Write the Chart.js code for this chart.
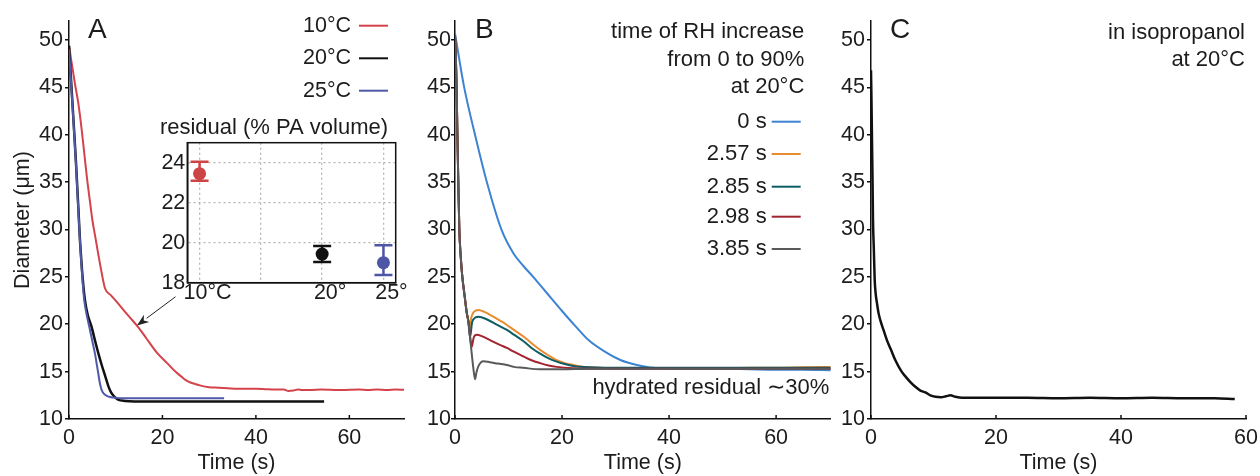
<!DOCTYPE html>
<html><head><meta charset="utf-8">
<script src="https://cdn.jsdelivr.net/npm/chart.js@4.4.1/dist/chart.umd.min.js"></script>
<style>
html,body{margin:0;padding:0;background:#fff;}
#wrap{position:relative;width:1260px;height:476px;overflow:hidden;background:#fff;}
canvas{position:absolute;}
</style></head><body>
<div id="wrap">
<canvas id="cA" width="420" height="476" style="left:0;top:0"></canvas>
<canvas id="cB" width="420" height="476" style="left:420px;top:0"></canvas>
<canvas id="cC" width="420" height="476" style="left:840px;top:0"></canvas>
<canvas id="cI" width="270" height="210" style="left:140px;top:100px"></canvas>
</div>
<script>
// ---------- tick labels ----------
const xTicks = [0, 20, 40, 60];
const yTicks = [10, 15, 20, 25, 30, 35, 40, 45, 50];
const insetTicks = [10, 15, 20, 25];
const insetTickLabels = ['10°C', '', '20°', '25°'];
const insetYTicks = [18, 20, 22, 24];

// ---------- Panel A: temperature ----------
const aRedT = [0, 0.5, 1.3, 2.0, 2.7, 3.3, 3.9, 4.5, 5.0, 5.6, 6.3, 7.0, 7.7, 9, 10.5, 12, 13.5, 14.8, 16.5, 18.8, 21, 23, 24, 25, 26, 27, 28, 30, 32, 34, 36, 38, 40, 42, 44, 46, 47, 48, 49, 50, 52, 54, 56, 58, 60, 62, 64, 66, 68, 70, 71.7];
const aRedD = [49.4, 47.8, 45.3, 43.3, 40.6, 37.9, 35.2, 32.9, 31.0, 29.3, 27.3, 25.4, 23.8, 23.05, 22.2, 21.3, 20.45, 19.7, 18.55, 17.0, 15.9, 14.9, 14.5, 14.1, 13.85, 13.7, 13.55, 13.35, 13.3, 13.25, 13.2, 13.2, 13.2, 13.15, 13.1, 13.1, 12.95, 13.0, 13.1, 13.05, 13.06, 13.1, 13.08, 13.05, 13.08, 13.1, 13.06, 13.1, 13.05, 13.1, 13.08];
const aBlackT = [0, 0.5, 1.0, 1.5, 2.0, 2.3, 2.6, 2.9, 3.4, 4.0, 4.85, 5.5, 6.3, 7.0, 7.7, 8.4, 9.0, 9.8, 10.5, 12, 14, 20, 30, 40, 54.6];
const aBlackD = [49.4, 45.3, 41.2, 37.0, 32.3, 29.3, 27.0, 25.0, 22.6, 21.0, 19.7, 18.4, 16.9, 15.7, 14.6, 13.5, 12.8, 12.3, 12.05, 11.9, 11.85, 11.85, 11.85, 11.85, 11.85];
const aBlueT = [0, 0.5, 1.0, 1.5, 2.0, 2.3, 2.6, 2.9, 3.2, 3.7, 4.35, 5.0, 5.56, 6.0, 6.27, 6.6, 7.0, 7.5, 8.06, 9, 10, 11, 13, 20, 27, 33.2];
const aBlueD = [49.0, 45.0, 41.0, 36.8, 32.0, 29.2, 26.7, 24.6, 22.8, 21.2, 19.7, 18.2, 16.9, 15.6, 14.8, 13.8, 13.05, 12.65, 12.45, 12.3, 12.25, 12.2, 12.2, 12.18, 12.18, 12.18];

// inset: residual (% PA volume)
const insetX = [10, 20, 25];
const insetMean = [23.45, 19.43, 19.0];
const insetLow = [23.1, 19.03, 18.38];
const insetHigh = [24.05, 19.83, 19.87];

// ---------- Panel B: RH increase ----------
const b0T = [0, 1.68, 3.74, 6.0, 8.7, 10.9, 12.7, 14.6, 17, 20, 22.5, 25, 28, 31, 34, 37, 40, 45, 50, 55, 60, 65, 70.2];
const b0D = [50.7, 45.1, 40.0, 34.9, 29.95, 27.5, 26.2, 25.0, 23.4, 21.4, 19.8, 18.3, 17.1, 16.2, 15.7, 15.4, 15.35, 15.3, 15.3, 15.25, 15.2, 15.2, 15.15];
const bShareT = [0, 0.15, 0.3, 0.45, 0.62, 0.81, 1.05, 1.37, 1.8, 2.2, 2.5];
const bShareD = [50.5, 48.5, 45.0, 40.0, 34.9, 30.0, 27.3, 25.0, 23.0, 21.2, 20.3];
const b257T = [2.75, 3.0, 3.4, 3.9, 4.4, 5.5, 7.0, 8.5, 9.5, 11, 12.8, 14.3, 15.9, 17.5, 19, 20.5, 22.1, 23.5, 25.2, 27, 30, 35, 40, 45, 50, 55, 60, 65, 70.2];
const b257D = [19.5, 20.6, 21.2, 21.45, 21.5, 21.3, 20.85, 20.35, 20.0, 19.4, 18.7, 18.0, 17.3, 16.7, 16.2, 15.9, 15.7, 15.55, 15.45, 15.4, 15.35, 15.35, 15.35, 15.35, 15.35, 15.4, 15.4, 15.45, 15.5];
const b285T = [2.8, 3.2, 3.8, 4.4, 6.0, 8.0, 9.7, 11, 12.8, 14.3, 15.9, 17.5, 19, 20.5, 22.1, 25, 28, 35, 45, 55, 65, 70.2];
const b285D = [18.6, 20.2, 20.7, 20.8, 20.5, 19.9, 19.4, 18.9, 18.2, 17.5, 16.9, 16.4, 16.05, 15.8, 15.6, 15.45, 15.4, 15.4, 15.4, 15.4, 15.4, 15.4];
const b298T = [2.9, 3.1, 3.5, 4.05, 5.0, 7.0, 8.5, 9.7, 11, 12.8, 14.3, 15.9, 17.5, 19, 22, 26, 35, 45, 55, 65, 70.2];
const b298D = [18.3, 17.6, 18.6, 18.9, 18.75, 18.2, 17.8, 17.5, 17.1, 16.6, 16.2, 15.9, 15.65, 15.5, 15.35, 15.3, 15.3, 15.3, 15.3, 15.3, 15.3];
const b385T = [3.0, 3.4, 3.74, 4.0, 4.4, 5.3, 6.5, 8.0, 9.7, 11, 12.8, 15.9, 20, 25, 35, 45, 55, 65, 70.2];
const b385D = [17.6, 15.5, 14.2, 14.9, 15.6, 16.1, 16.0, 15.85, 15.7, 15.5, 15.4, 15.25, 15.25, 15.3, 15.3, 15.3, 15.3, 15.3, 15.3];

// ---------- Panel C: isopropanol ----------
const cT = [0, 0.08, 0.16, 0.25, 0.32, 0.45, 0.59, 0.75, 0.96, 1.2, 1.5, 2.0, 2.56, 3.2, 3.9, 4.9, 5.5, 6.3, 7.1, 7.9, 8.7, 9.5, 10.3, 11.2, 12.0, 12.7, 13.5, 14.6, 16, 18, 20, 25, 30, 35, 40, 45, 50, 55, 58.2];
const cD = [46.8, 43.5, 39.4, 35.0, 31.0, 28.0, 24.7, 23.2, 22.2, 21.2, 20.4, 19.4, 18.3, 17.3, 16.2, 15.0, 14.5, 13.9, 13.4, 13.0, 12.8, 12.5, 12.35, 12.3, 12.4, 12.5, 12.35, 12.25, 12.25, 12.25, 12.25, 12.25, 12.2, 12.25, 12.2, 12.25, 12.2, 12.2, 12.1];

// ---------- helpers ----------
const FONT = "'Liberation Sans', Arial, Helvetica, sans-serif";
const TXT = '#1c1c1c';
const AXC = '#111';
const FS = 21.5;
function pts(t, d) { return t.map((x, i) => ({ x: x, y: d[i] })); }

const annot = {
  id: 'annot',
  afterDraw(chart, args, o) {
    const ctx = chart.ctx;
    const ca = chart.chartArea;
    ctx.save();
    if (o.xTick) {
      const xs = chart.scales.x;
      ctx.strokeStyle = AXC; ctx.lineWidth = 1.5;
      xs.ticks.forEach(t => {
        const px = xs.getPixelForValue(t.value);
        ctx.beginPath(); ctx.moveTo(px, ca.bottom); ctx.lineTo(px, ca.bottom - o.xTick); ctx.stroke();
      });
    }
    ctx.fillStyle = TXT;
    ctx.textBaseline = 'middle';
    if (o.letter) {
      ctx.font = '28px ' + FONT; ctx.textAlign = 'left';
      ctx.fillText(o.letter.text, o.letter.x, o.letter.y);
    }
    (o.texts || []).forEach(t => {
      ctx.font = '22px ' + FONT; ctx.textAlign = 'right'; ctx.fillStyle = TXT;
      ctx.fillText(t.text, t.x, t.y);
    });
    if (o.legend) {
      const L = o.legend;
      chart.data.datasets.forEach((ds, i) => {
        const y = L.ys[i];
        ctx.font = L.fs + 'px ' + FONT; ctx.textAlign = 'right'; ctx.fillStyle = TXT;
        ctx.fillText(ds.label, L.textX, y);
        ctx.strokeStyle = ds.borderColor; ctx.lineWidth = 2;
        ctx.beginPath(); ctx.moveTo(L.x1, y); ctx.lineTo(L.x2, y); ctx.stroke();
      });
    }
    if (o.arrow) {
      const xs = chart.scales.x, ys = chart.scales.y;
      const x0 = xs.getPixelForValue(o.arrow.from[0]), y0 = ys.getPixelForValue(o.arrow.from[1]);
      const x1 = xs.getPixelForValue(o.arrow.to[0]), y1 = ys.getPixelForValue(o.arrow.to[1]);
      const ang = Math.atan2(y1 - y0, x1 - x0);
      const hl = 12, hw = 4.5;
      const bx = x1 - hl * Math.cos(ang), by = y1 - hl * Math.sin(ang);
      ctx.strokeStyle = '#222'; ctx.lineWidth = 1;
      ctx.beginPath(); ctx.moveTo(x0, y0); ctx.lineTo(bx, by); ctx.stroke();
      ctx.fillStyle = '#222';
      ctx.beginPath();
      ctx.moveTo(x1, y1);
      ctx.lineTo(bx + hw * Math.sin(ang), by - hw * Math.cos(ang));
      ctx.lineTo(x1 - 0.7 * hl * Math.cos(ang), y1 - 0.7 * hl * Math.sin(ang));
      ctx.lineTo(bx - hw * Math.sin(ang), by + hw * Math.cos(ang));
      ctx.closePath(); ctx.fill();
    }
    ctx.restore();
  }
};

function mainOptions(o) {
  return {
    responsive: false, animation: false, devicePixelRatio: 1,
    layout: { padding: { left: 0, right: o.padRight, top: 21, bottom: 0 } },
    plugins: { legend: { display: false }, tooltip: { enabled: false }, annot: o.annot },
    elements: { point: { radius: 0 }, line: { cubicInterpolationMode: 'monotone', borderWidth: 2 } },
    scales: {
      x: {
        type: 'linear', min: 0, max: o.xMax,
        afterBuildTicks: s => { s.ticks = xTicks.filter(v => v <= o.xMax).map(v => ({ value: v })); },
        afterFit: s => { s.height = 57; s.paddingLeft = 0; s.paddingRight = 0; },
        grid: { display: false, drawTicks: false },
        border: { display: true, color: AXC, width: 1.5 },
        ticks: { padding: 6, color: TXT, font: { family: FONT, size: FS }, maxRotation: 0 },
        title: { display: true, text: 'Time (s)', color: TXT, font: { family: FONT, size: FS }, padding: { top: 0, bottom: 0 } }
      },
      y: {
        type: 'linear', min: 10, max: 52,
        afterBuildTicks: s => { s.ticks = yTicks.map(v => ({ value: v })); },
        afterFit: s => { s.width = o.yWidth; s.paddingTop = 0; s.paddingBottom = 0; },
        grid: { display: true, drawOnChartArea: false, drawTicks: true, tickLength: 4, color: AXC, lineWidth: 1.5 },
        border: { display: true, color: AXC, width: 1.5 },
        ticks: { padding: o.yPad, color: TXT, font: { family: FONT, size: FS } },
        title: { display: !!o.yTitle, text: o.yTitle || '', color: TXT, font: { family: FONT, size: FS }, padding: { top: 10, bottom: 0 } }
      }
    }
  };
}

// ---------- Chart A ----------
new Chart(document.getElementById('cA'), {
  type: 'line',
  data: { datasets: [
    { label: '10°C', data: pts(aRedT, aRedD), borderColor: '#d4434b', borderWidth: 2, order: 2 },
    { label: '20°C', data: pts(aBlackT, aBlackD), borderColor: '#111111', borderWidth: 2.5, order: 1 },
    { label: '25°C', data: pts(aBlueT, aBlueD), borderColor: '#5059a9', borderWidth: 2, order: 0 }
  ] },
  options: mainOptions({ xMax: 71.7, yWidth: 69, yPad: 2, padRight: 16, yTitle: 'Diameter (μm)',
    annot: { xTick: 4, letter: { text: 'A', x: 88, y: 30 },
      legend: { fs: 21.5, textX: 351, x1: 359, x2: 388, ys: [25.7, 58.3, 90.7] },
      arrow: { from: [22.8, 22.9], to: [14.55, 19.87] } } }),
  plugins: [annot]
});

// ---------- Inset ----------
const insetColors = ['#cc4444', '#111111', '#4f56a6'];
const insetPlug = {
  id: 'insetPlug',
  beforeDatasetsDraw(chart) {
    const ctx = chart.ctx, xs = chart.scales.x, ys = chart.scales.y;
    ctx.save();
    insetX.forEach((v, i) => {
      const px = xs.getPixelForValue(v);
      const yl = ys.getPixelForValue(insetLow[i]), yh = ys.getPixelForValue(insetHigh[i]);
      ctx.strokeStyle = insetColors[i]; ctx.lineWidth = 2.5;
      ctx.beginPath();
      ctx.moveTo(px, yl); ctx.lineTo(px, yh);
      ctx.moveTo(px - 9, yl); ctx.lineTo(px + 9, yl);
      ctx.moveTo(px - 9, yh); ctx.lineTo(px + 9, yh);
      ctx.stroke();
    });
    ctx.restore();
  },
  afterDraw(chart) {
    const ctx = chart.ctx, ca = chart.chartArea;
    ctx.save();
    ctx.strokeStyle = AXC; ctx.lineWidth = 1.5;
    ctx.strokeRect(ca.left, ca.top, ca.right - ca.left, ca.bottom - ca.top);
    ctx.fillStyle = TXT; ctx.font = '22px ' + FONT; ctx.textAlign = 'center'; ctx.textBaseline = 'middle';
    ctx.fillText('residual (% PA volume)', 134, 28);
    ctx.restore();
  }
};
new Chart(document.getElementById('cI'), {
  type: 'scatter',
  data: { datasets: [{ data: pts(insetX, insetMean), pointBackgroundColor: insetColors, pointBorderWidth: 0, pointRadius: 6.5 }] },
  options: {
    responsive: false, animation: false, devicePixelRatio: 1,
    layout: { padding: { left: 0, right: 14.3, top: 42.7, bottom: 0 } },
    plugins: { legend: { display: false }, tooltip: { enabled: false } },
    scales: {
      x: {
        type: 'linear', min: 9, max: 26,
        afterBuildTicks: s => { s.ticks = insetTicks.map(v => ({ value: v })); },
        afterFit: s => { s.height = 27.3; s.paddingLeft = 0; s.paddingRight = 0; },
        grid: { display: true, drawTicks: false, color: '#b5b5b5', lineWidth: 1.3 },
        border: { display: true, color: AXC, width: 1.5, dash: [2, 3] },
        ticks: { padding: 0, labelOffset: 8, color: TXT, font: { family: FONT, size: FS, lineHeight: 1 },
          callback: (v, i) => insetTickLabels[i], maxRotation: 0, autoSkip: false }
      },
      y: {
        type: 'linear', min: 18, max: 25,
        afterBuildTicks: s => { s.ticks = insetYTicks.map(v => ({ value: v })); },
        afterFit: s => { s.width = 47.3; s.paddingTop = 0; s.paddingBottom = 0; },
        grid: { display: true, drawTicks: false, color: '#b5b5b5', lineWidth: 1.3 },
        border: { display: true, color: AXC, width: 1.5, dash: [2, 3] },
        ticks: { padding: 2, color: TXT, font: { family: FONT, size: FS } }
      }
    }
  },
  plugins: [insetPlug]
});

// ---------- Chart B ----------
new Chart(document.getElementById('cB'), {
  type: 'line',
  data: { datasets: [
    { label: '0 s', data: pts(b0T, b0D), borderColor: '#3c84d2', order: 4 },
    { label: '2.57 s', data: pts(bShareT.concat(b257T), bShareD.concat(b257D)), borderColor: '#e98b2f', order: 3 },
    { label: '2.85 s', data: pts(bShareT.concat(b285T), bShareD.concat(b285D)), borderColor: '#0d5d65', order: 2 },
    { label: '2.98 s', data: pts(bShareT.concat(b298T), bShareD.concat(b298D)), borderColor: '#a2242e', order: 1 },
    { label: '3.85 s', data: pts(bShareT.concat(b385T), bShareD.concat(b385D)), borderColor: '#58595b', order: 0 }
  ] },
  options: mainOptions({ xMax: 70.2, yWidth: 35, yPad: 0, padRight: 9.3,
    annot: { xTick: 4, letter: { text: 'B', x: 55, y: 30 },
      texts: [
        { text: 'time of RH increase', x: 384.3, y: 32.3 },
        { text: 'from 0 to 90%', x: 384.3, y: 60 },
        { text: 'at 20°C', x: 384.3, y: 86.7 },
        { text: 'hydrated residual ∼30%', x: 409.3, y: 387.7 }
      ],
      legend: { fs: 22, textX: 346.7, x1: 351.7, x2: 380.7, ys: [121.7, 154, 186.7, 216.7, 249] } } }),
  plugins: [annot]
});

// ---------- Chart C ----------
new Chart(document.getElementById('cC'), {
  type: 'line',
  data: { datasets: [
    { label: 'in isopropanol', data: pts(cT, cD), borderColor: '#111111', borderWidth: 2.5 }
  ] },
  options: mainOptions({ xMax: 60, yWidth: 31, yPad: 2, padRight: 14,
    annot: { xTick: 4, letter: { text: 'C', x: 50, y: 30 },
      texts: [
        { text: 'in isopropanol', x: 405, y: 33.3 },
        { text: 'at 20°C', x: 405, y: 60 }
      ] } }),
  plugins: [annot]
});
</script>
</body></html>
